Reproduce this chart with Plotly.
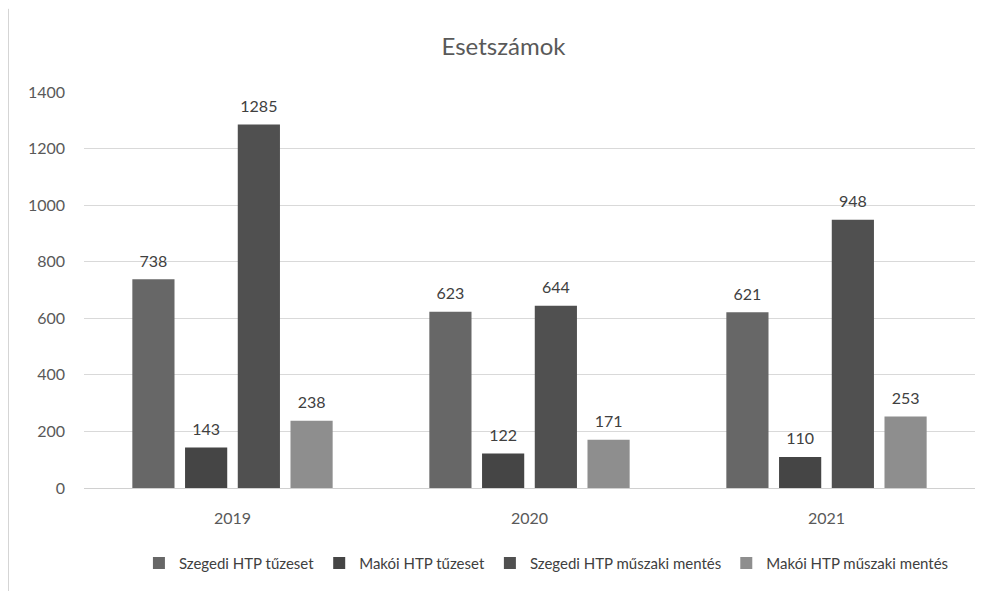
import plotly.graph_objects as go

years = ["2019", "2020", "2021"]
series_names = [
    "Szegedi HTP tűzeset",
    "Makói HTP tűzeset",
    "Szegedi HTP műszaki mentés",
    "Makói HTP műszaki mentés",
]
szegedi_tuz = [738, 623, 621]
makoi_tuz = [143, 122, 110]
szegedi_muszaki = [1285, 644, 948]
makoi_muszaki = [238, 171, 253]

series_values = [szegedi_tuz, makoi_tuz, szegedi_muszaki, makoi_muszaki]
colors = ["#676767", "#454545", "#505050", "#8e8e8e"]

FONT = "Lato, 'Open Sans', sans-serif"

fig = go.Figure()

for i, (name, vals, col) in enumerate(zip(series_names, series_values, colors)):
    fig.add_trace(go.Bar(
        x=years,
        y=vals,
        name=name,
        offsetgroup=str(i),
        marker=dict(color=col, line=dict(width=0)),
        cliponaxis=False,
    ))
    # value labels, lifted a bit above the bar tops like in the original
    fig.add_trace(go.Scatter(
        x=years,
        y=vals,
        offsetgroup=str(i),
        mode="markers+text",
        marker=dict(size=12, opacity=0),
        text=[str(v) for v in vals],
        textposition="top center",
        textfont=dict(size=16, color="#404040", family=FONT),
        showlegend=False,
        hoverinfo="skip",
        cliponaxis=False,
    ))

fig.update_layout(
    width=991,
    height=591,
    title=dict(
        text="Esetszámok",
        x=0.5,
        xanchor="center",
        y=0.934,
        yanchor="middle",
        font=dict(size=24, color="#595959", family=FONT),
    ),
    barmode="group",
    scattermode="group",
    bargap=0.29,
    bargroupgap=0.2,
    scattergap=0.29,
    plot_bgcolor="white",
    paper_bgcolor="white",
    margin=dict(l=76, r=24, t=84, b=111, autoexpand=False),
    font=dict(family=FONT, size=15, color="#595959"),
    showlegend=True,
    legend=dict(
        orientation="h",
        x=0.519,
        xanchor="center",
        y=-0.19,
        yanchor="middle",
        font=dict(size=15, color="#404040", family=FONT),
        itemwidth=30,
        tracegroupgap=0,
    ),
)

fig.update_yaxes(
    range=[0, 1400],
    dtick=200,
    showgrid=True,
    gridcolor="#d9d9d9",
    gridwidth=1,
    zeroline=False,
    showline=False,
    automargin=False,
    ticklabelstandoff=18,
    tickfont=dict(size=16, color="#595959"),
)
fig.update_xaxes(
    showline=True,
    linecolor="#d0d0d0",
    linewidth=1,
    automargin=False,
    ticklabelstandoff=16,
    tickfont=dict(size=16, color="#595959"),
)

# faint frame edge on the left like the scanned original
fig.add_shape(
    type="line", xref="paper", yref="paper",
    x0=-0.085, x1=-0.085, y0=-0.28, y1=1.21,
    line=dict(color="#c8c8c8", width=1),
)

fig.write_html("out.html")
